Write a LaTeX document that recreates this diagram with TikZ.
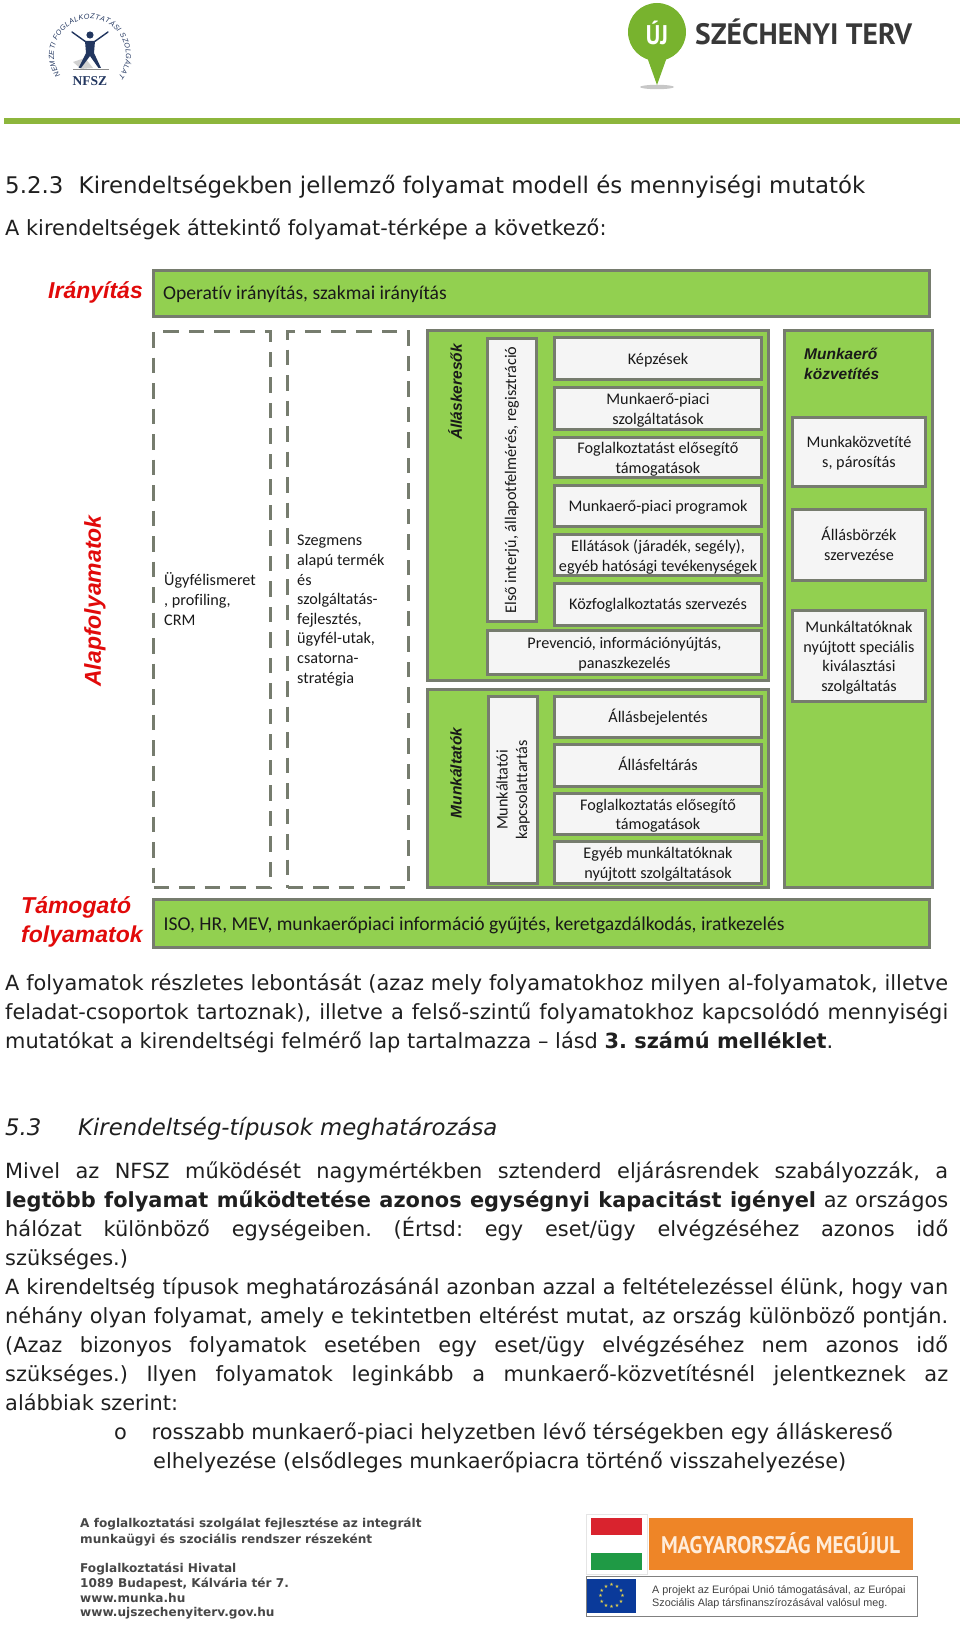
\documentclass[tikz,border=0pt]{standalone}
\usepackage{fontspec}
\usetikzlibrary{decorations.text,shapes.geometric}
\setmainfont{DejaVu Sans}
\newfontfamily\diagf[Ligatures=CommonOff]{Carlito}
\newfontfamily\labf{Liberation Sans}
\newfontfamily\logof{PT Sans}
\newfontfamily\serf{Liberation Serif}
\definecolor{gr}{HTML}{92D050}
\definecolor{bd}{HTML}{767C6E}
\definecolor{wb}{HTML}{F5F5F5}
\definecolor{lab}{HTML}{E10A0A}
\definecolor{rule}{HTML}{8DB63C}
\definecolor{ujg}{HTML}{78B32E}
\definecolor{navy}{HTML}{22365F}
\definecolor{org}{HTML}{EE8527}
\definecolor{hured}{HTML}{D9232E}
\definecolor{hugreen}{HTML}{1F9A45}
\definecolor{eub}{HTML}{0A3A9A}
\definecolor{eus}{HTML}{E8D44A}
\tikzset{
  greenbox/.style={draw=bd,fill=gr,line width=3pt,text=black},
  whitebox/.style={draw=bd,fill=wb,line width=3pt,text=black!90},
  dashbox/.style={draw=bd,line width=3.5pt,dash pattern=on 15.5pt off 10pt},
  dtext/.style={font=\diagf\fontsize{16.2}{19.6}\selectfont,text=black!90},
  bartext/.style={font=\diagf\fontsize{19.6}{22}\selectfont,text=black!90,anchor=base west,inner sep=0pt},
  redlab/.style={font=\labf\bfseries\itshape\fontsize{23}{29}\selectfont,text=lab,inner sep=0pt},
  blacklab/.style={font=\labf\bfseries\itshape\fontsize{15.5}{20}\selectfont,text=black!90,inner sep=0pt},
  body/.style={font=\fontsize{20.9}{29}\selectfont,anchor=base west,inner sep=0pt,text=black!88},
  foot/.style={font=\bfseries\fontsize{12.1}{14}\selectfont,anchor=base west,inner sep=0pt,text=black!72},
  eut/.style={font=\labf\fontsize{10.8}{13}\selectfont,anchor=base west,inner sep=0pt,text=black!75},
}
% [text drop] style name x0 y0 x1 y1 text
\newcommand\bx[8][1.7]{%
  \pgfmathsetmacro\bw{#6-#4-3}\pgfmathsetmacro\bh{#7-#5-3}%
  \node[#2,minimum width=\bw pt,minimum height=\bh pt,inner sep=0pt] (#3) at ({(#4+#6)/2},{(#5+#7)/2}) {};
  \node[dtext,inner sep=0pt,align=center] (#3t) at ({(#4+#6)/2},{(#5+#7)/2+#1}) {#8};}
\newcommand\jl[3]{\node[body] (#1) at (5,#2) {\makebox[943pt][s]{#3}};}
\newcommand\pl[3]{\node[body] (#1) at (5,#2) {#3};}
\begin{document}
\frenchspacing
\begin{tikzpicture}[x=1pt,y=-1pt]
\useasboundingbox (0,0) rectangle (960,1627);
% --- NFSZ logo
\begin{scope}[shift={(90,55)},y=1pt]
  \path[decorate,decoration={text along path,text align={fit to path},
    text={|\labf\itshape\fontsize{7.2}{8}\selectfont\color{navy}|NEMZETI FOGLALKOZTATÁSI SZOLGÁLAT}}]
    (215:36pt) arc[start angle=215,end angle=-38,radius=36pt];
\end{scope}
\fill[black!18] (73,62) -- (85,58) -- (93,68) -- (81,69) -- cycle;
\draw[black!45,line width=1.5pt] (73,69.5) -- (109,69.5);
\fill[navy] (90,35) circle (3.6);
\draw[navy,line width=1.4pt,line cap=round] (72,32) -- (86,42);
\draw[navy,line width=1.4pt,line cap=round] (108,32) -- (94,42);
\fill[navy] (85,41) -- (95,41) -- (94,53) -- (101,68) -- (98.5,68) -- (90,56) -- (81,68) -- (78.5,68) -- (86,53) -- cycle;
\node[font=\serf\bfseries\fontsize{13.5}{14}\selectfont,text=navy,anchor=base,inner sep=0pt] (nfsz) at (90,86) {NFSZ};
% --- Széchenyi logo
\fill[black!22] (657,87) ellipse (17 and 2.2);
\fill[ujg] (657,85) -- (647,57) -- (667,57) -- cycle;
\fill[ujg] (657,32) circle (29);
\node[font=\logof\bfseries\fontsize{27}{27}\selectfont,text=white,anchor=base,inner sep=0pt] (uj) at (657,45) {\scalebox{.85}[1]{ÚJ}};
\node[font=\logof\bfseries\fontsize{29.5}{30}\selectfont,text=black!78,anchor=base west,inner sep=0pt] (szt) at (695,45) {SZÉCHENYI TERV};
\fill[rule] (4,118) rectangle (960,124);
% --- headings
\node[body,font=\fontsize{22.9}{29}\selectfont] (h1) at (5,193) {5.2.3\hspace{8pt} Kirendeltségekben jellemző folyamat modell és mennyiségi mutatók};
\pl{h2}{235}{A kirendeltségek áttekintő folyamat-térképe a következő:}
% --- diagram
\node[redlab,anchor=base west] (lir) at (48,298) {Irányítás};
\bx{greenbox}{bir}{152}{269}{931}{318}{}
\node[bartext] (tir) at (163,299) {Operatív irányítás, szakmai irányítás};
\node[redlab,rotate=90] (lal) at (95,601) {Alapfolyamatok};
\bx{dashbox}{d1}{152}{330}{272}{889}{}
\bx{dashbox}{d2}{286}{330}{410}{889}{}
\node[dtext,anchor=base west,align=left,inner sep=0pt] (td1) at (164,625) {Ügyfélismeret\\, profiling,\\CRM};
\node[dtext,anchor=base west,align=left,inner sep=0pt] (td2) at (297,683) {Szegmens\\alapú termék\\és\\szolgáltatás-\\fejlesztés,\\ügyfél-utak,\\csatorna-\\stratégia};
% álláskeresők
\bx{greenbox}{ga}{426}{329}{770}{682}{}
\node[blacklab,rotate=90] (la) at (455,392) {Álláskeresők};
\node[whitebox,rotate=90,minimum width=283pt,minimum height=49pt,inner sep=0pt] (v1) at (512,480) {};
\node[dtext,rotate=90,inner sep=0pt] (v1t) at (512,480) {Első interjú, állapotfelmérés, regisztráció};
\bx{whitebox}{a1}{553}{336}{763}{381}{Képzések}
\bx{whitebox}{a2}{553}{386}{763}{431}{Munkaerő-piaci\\szolgáltatások}
\bx{whitebox}{a3}{553}{436}{763}{479}{Foglalkoztatást elősegítő\\támogatások}
\bx{whitebox}{a4}{553}{484}{763}{528}{Munkaerő-piaci programok}
\bx{whitebox}{a5}{553}{533}{763}{577}{Ellátások (járadék, segély),\\egyéb hatósági tevékenységek}
\bx[.3]{whitebox}{a6}{553}{582}{763}{627}{Közfoglalkoztatás szervezés}
\bx{whitebox}{a7}{486}{629}{763}{676}{Prevenció, információnyújtás,\\panaszkezelés}
% munkáltatók
\bx{greenbox}{gm}{426}{688}{770}{889}{}
\node[blacklab,rotate=90] (lm) at (456,773) {Munkáltatók};
\node[whitebox,rotate=90,minimum width=187pt,minimum height=49pt,inner sep=0pt] (v2) at (513,790) {};
\node[dtext,rotate=90,inner sep=0pt,align=center] (v2t) at (513,790) {Munkáltatói\\kapcsolattartás};
\bx[.3]{whitebox}{m1}{553}{695}{763}{739}{Állásbejelentés}
\bx[-1.5]{whitebox}{m2}{553}{743}{763}{788}{Állásfeltárás}
\bx{whitebox}{m3}{553}{792}{763}{836}{Foglalkoztatás elősegítő\\támogatások}
\bx{whitebox}{m4}{553}{840}{763}{885}{Egyéb munkáltatóknak\\nyújtott szolgáltatások}
% munkaerő közvetítés
\bx{greenbox}{gk}{783}{329}{934}{889}{}
\node[blacklab,anchor=base west,align=left] (lk) at (804,379) {Munkaerő\\közvetítés};
\bx[1]{whitebox}{k1}{791}{416}{927}{488}{Munkaközvetíté\\s, párosítás}
\bx[-1]{whitebox}{k2}{791}{508}{927}{582}{Állásbörzék\\szervezése}
\bx{whitebox}{k3}{791}{609}{927}{703}{Munkáltatóknak\\nyújtott speciális\\kiválasztási\\szolgáltatás}
% támogató
\node[redlab,anchor=base west,align=left] (lt) at (21,942) {Támogató\\folyamatok};
\bx{greenbox}{bt}{152}{898}{931}{949}{}
\node[bartext] (tt) at (163.5,930) {ISO, HR, MEV, munkaerőpiaci információ gyűjtés, keretgazdálkodás, iratkezelés};
% --- text
\jl{p1}{990}{A folyamatok részletes lebontását (azaz mely folyamatokhoz milyen al-folyamatok, illetve}
\jl{p2}{1019}{feladat-csoportok tartoznak), illetve a felső-szintű folyamatokhoz kapcsolódó mennyiségi}
\pl{p3}{1048}{mutatókat a kirendeltségi felmérő lap tartalmazza – lásd \textbf{3. számú melléklet}.}
\node[body,font=\itshape\fontsize{22.8}{29}\selectfont] (h3a) at (5,1135) {5.3};
\node[body,font=\itshape\fontsize{22.8}{29}\selectfont] (h3b) at (78,1135) {Kirendeltség-típusok meghatározása};
\jl{q1}{1178}{Mivel az NFSZ működését nagymértékben sztenderd eljárásrendek szabályozzák, a}
\jl{q2}{1207}{\textbf{legtöbb folyamat működtetése azonos egységnyi kapacitást igényel} az országos}
\jl{q3}{1236}{hálózat különböző egységeiben. (Értsd: egy eset/ügy elvégzéséhez azonos idő}
\pl{q4}{1265}{szükséges.)}
\jl{r1}{1294}{A kirendeltség típusok meghatározásánál azonban azzal a feltételezéssel élünk, hogy van}
\jl{r2}{1323}{néhány olyan folyamat, amely e tekintetben eltérést mutat, az ország különböző pontján.}
\jl{r3}{1352}{(Azaz bizonyos folyamatok esetében egy eset/ügy elvégzéséhez nem azonos idő}
\jl{r4}{1381}{szükséges.) Ilyen folyamatok leginkább a munkaerő-közvetítésnél jelentkeznek az}
\pl{r5}{1410}{alábbiak szerint:}
\node[body] (bo) at (114,1439) {o};
\node[body] (b1) at (151.5,1439) {rosszabb munkaerő-piaci helyzetben lévő térségekben egy álláskereső};
\node[body] (b2) at (153,1468) {elhelyezése (elsődleges munkaerőpiacra történő visszahelyezése)};
% --- footer left
\node[foot] (f1) at (80,1527) {A foglalkoztatási szolgálat fejlesztése az integrált};
\node[foot] (f2) at (80,1543) {munkaügyi és szociális rendszer részeként};
\node[foot] (f3) at (80,1572) {Foglalkoztatási Hivatal};
\node[foot] (f4) at (80,1587) {1089 Budapest, Kálvária tér 7.};
\node[foot] (f5) at (80,1602) {www.munka.hu};
\node[foot] (f6) at (80,1616) {www.ujszechenyiterv.gov.hu};
% --- footer right
\draw[black!10,line width=1pt] (586,1514) rectangle (647,1574);
\fill[hured] (591,1518) rectangle (642,1535);
\fill[hugreen] (591,1553) rectangle (642,1570);
\fill[org] (649,1518) rectangle (913,1570);
\node[font=\logof\bfseries\fontsize{24}{24}\selectfont,text=orange!15,anchor=base,inner sep=0pt] (mm) at (780.5,1553) {\scalebox{.87}[1]{MAGYARORSZÁG MEGÚJUL}};
\draw[black!50,line width=.8pt] (586,1576) rectangle (917,1616);
\fill[eub] (587,1579) rectangle (636,1613);
\foreach \a in {0,30,...,330} \node[font=\fontsize{5}{5}\selectfont,text=eus,inner sep=0pt] at ({611.5+11*cos(\a)},{1596+11*sin(\a)}) {★};
\node[eut] (e1) at (652,1593) {A projekt az Európai Unió támogatásával, az Európai};
\node[eut] (e2) at (652,1606) {Szociális Alap társfinanszírozásával valósul meg.};
\end{tikzpicture}
\end{document}
